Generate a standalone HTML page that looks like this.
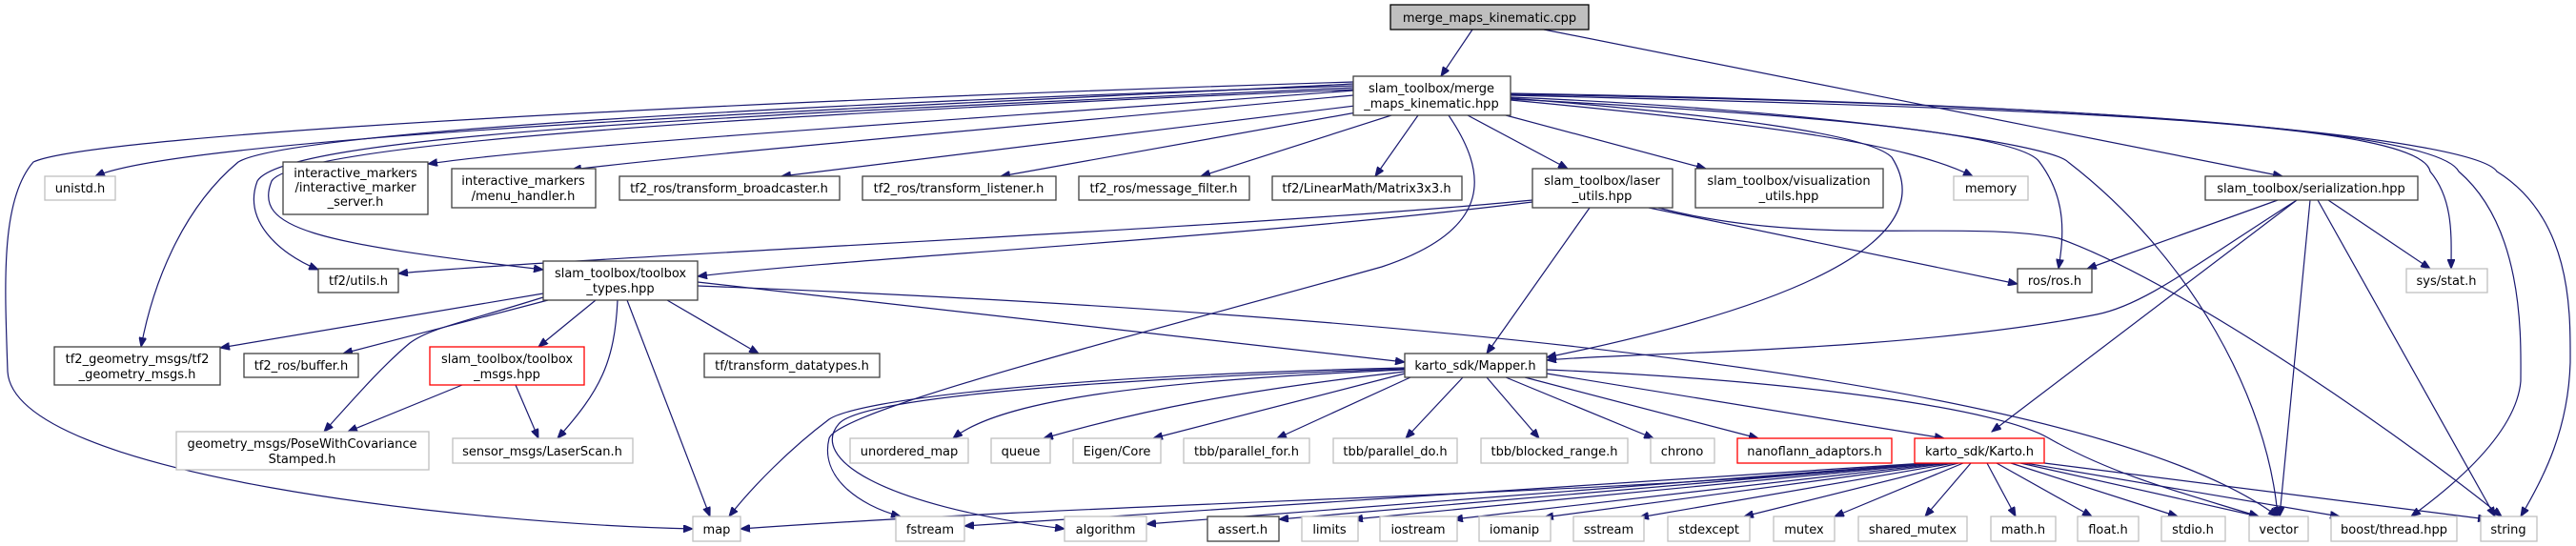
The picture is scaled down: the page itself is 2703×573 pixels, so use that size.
<!DOCTYPE html>
<html><head><meta charset="utf-8"><style>
html,body{margin:0;padding:0;background:#fff;}
svg{display:block;}
text{font-family:"DejaVu Sans","Liberation Sans",sans-serif;font-size:13px;fill:#000;text-anchor:middle;}
.e{fill:none;stroke:#191970;stroke-width:1.2;marker-end:url(#a);}
.n{fill:#fff;stroke:#404040;stroke-width:1.3;}
.g{fill:#fff;stroke:#bfbfbf;stroke-width:1.3;}
.r{fill:#fff;stroke:#ff0000;stroke-width:1.3;}
</style></head><body>
<svg width="2703" height="573" viewBox="0 0 2703 573" xmlns="http://www.w3.org/2000/svg">
<defs><marker id="a" markerWidth="11" markerHeight="8" refX="10" refY="4" orient="auto" markerUnits="userSpaceOnUse"><path d="M0,0 L10,4 L0,8 z" fill="#191970" stroke="#191970"/></marker></defs>
<g>
<path class="e" d="M1545,31 L1512,80"/>
<path class="e" d="M1620,31 L2395,185"/>
<path class="e" d="M1420,88 C1000,110 200,140 100,185"/>
<path class="e" d="M1420,95 C1100,120 600,150 449,172"/>
<path class="e" d="M1420,100 C1100,130 750,160 600,178"/>
<path class="e" d="M1430,110 L820,185"/>
<path class="e" d="M1440,115 L1050,185"/>
<path class="e" d="M1460,121 L1260,185"/>
<path class="e" d="M1488,121 L1443,185"/>
<path class="e" d="M1540,121 L1645,177"/>
<path class="e" d="M1580,121 L1790,177"/>
<path class="e" d="M1585,105 C1850,130 2000,150 2070,185"/>
<path class="e" d="M1420,92 C800,120 300,140 270,190 C255,230 290,265 334,283"/>
<path class="e" d="M1420,94 C800,120 310,150 285,190 C265,240 330,255 570,283"/>
<path class="e" d="M1420,90 C800,110 300,140 250,170 C190,220 160,300 148,364"/>
<path class="e" d="M1420,86 C800,105 100,140 35,170 C0,210 5,300 8,390 C15,500 500,550 727,555"/>
<path class="e" d="M1520,121 C1560,180 1570,240 1450,280 C1200,350 880,430 870,460 C860,500 900,530 945,542"/>
<path class="e" d="M1585,103 C1800,120 1960,140 1985,165 C2020,220 1990,300 1623,375"/>
<path class="e" d="M1585,104 C1900,120 2120,140 2140,170 C2170,210 2165,250 2160,282"/>
<path class="e" d="M1585,102 C1900,115 2150,150 2170,170 C2300,270 2380,420 2390,542"/>
<path class="e" d="M1585,100 C2200,115 2540,130 2550,180 C2575,210 2572,250 2572,282"/>
<path class="e" d="M1585,99 C2250,110 2560,140 2580,180 C2650,240 2645,360 2645,400 C2640,460 2560,520 2530,542"/>
<path class="e" d="M1585,98 C2300,110 2600,150 2620,180 C2700,230 2697,330 2697,380 C2695,450 2670,500 2645,542"/>
<path class="e" d="M1608,210 C1300,240 600,270 418,287"/>
<path class="e" d="M1608,212 C1300,250 900,270 732,290"/>
<path class="e" d="M1668,218 L1560,371"/>
<path class="e" d="M1730,218 L2117,298"/>
<path class="e" d="M1740,218 C1900,260 2060,230 2160,250 C2300,300 2550,480 2625,542"/>
<path class="e" d="M2390,210 L2190,282"/>
<path class="e" d="M2410,210 C2300,280 2250,320 2200,330 C2000,370 1700,370 1623,378"/>
<path class="e" d="M2410,210 L2090,453"/>
<path class="e" d="M2424,210 L2392,542"/>
<path class="e" d="M2432,210 L2618,542"/>
<path class="e" d="M2443,210 L2550,282"/>
<path class="e" d="M570,308 L231,365"/>
<path class="e" d="M575,315 L360,371"/>
<path class="e" d="M625,315 L565,364"/>
<path class="e" d="M570,312 C480,340 450,345 430,360 C400,385 370,420 340,453"/>
<path class="e" d="M648,315 C645,380 630,410 585,460"/>
<path class="e" d="M658,315 L745,542"/>
<path class="e" d="M700,315 L796,371"/>
<path class="e" d="M732,296 L1474,380"/>
<path class="e" d="M732,300 C1500,330 2200,400 2390,542"/>
<path class="e" d="M485,404 L365,453"/>
<path class="e" d="M541,404 L565,460"/>
<path class="e" d="M1474,388 C1200,400 1050,420 1000,460"/>
<path class="e" d="M1474,390 C1300,410 1200,430 1095,460"/>
<path class="e" d="M1474,392 L1210,460"/>
<path class="e" d="M1480,396 L1340,460"/>
<path class="e" d="M1535,396 L1475,460"/>
<path class="e" d="M1560,396 L1615,460"/>
<path class="e" d="M1580,396 L1735,460"/>
<path class="e" d="M1600,396 L1845,460"/>
<path class="e" d="M1623,392 L2040,460"/>
<path class="e" d="M1474,386 C1100,395 900,420 870,440 C830,470 790,510 765,542"/>
<path class="e" d="M1474,387 C1100,400 900,420 880,445 C850,480 920,530 1117,555"/>
<path class="e" d="M1623,388 C1900,400 2100,430 2150,460 C2220,500 2300,520 2370,542"/>
<path class="e" d="M2020,486 C1700,520 1200,525 777,555"/>
<path class="e" d="M2020,486 L1012,552"/>
<path class="e" d="M2025,486 L1203,550"/>
<path class="e" d="M2030,486 L1342,545"/>
<path class="e" d="M2035,486 L1420,545"/>
<path class="e" d="M2040,486 L1525,545"/>
<path class="e" d="M2045,486 L1620,543"/>
<path class="e" d="M2050,486 L1720,543"/>
<path class="e" d="M2055,486 L1830,542"/>
<path class="e" d="M2060,486 L1925,542"/>
<path class="e" d="M2068,486 L2020,542"/>
<path class="e" d="M2085,486 L2115,542"/>
<path class="e" d="M2095,486 L2195,542"/>
<path class="e" d="M2110,486 L2285,542"/>
<path class="e" d="M2120,486 L2370,542"/>
<path class="e" d="M2125,486 L2455,542"/>
<path class="e" d="M2145,486 L2610,545"/>
</g>
<g>
<rect x="1459" y="5" width="208" height="26" fill="#bfbfbf" stroke="#000" stroke-width="1.3"/><text x="1563" y="23">merge_maps_kinematic.cpp</text>
<rect class="n" x="1420" y="80" width="165" height="41"/><text x="1502" y="97">slam_toolbox/merge</text><text x="1502" y="113">_maps_kinematic.hpp</text>
<rect class="g" x="47" y="185" width="74" height="25"/><text x="84" y="202">unistd.h</text>
<rect class="n" x="297" y="170" width="152" height="55"/><text x="373" y="186">interactive_markers</text><text x="373" y="201">/interactive_marker</text><text x="373" y="216">_server.h</text>
<rect class="n" x="474" y="177" width="151" height="41"/><text x="549" y="194">interactive_markers</text><text x="549" y="210">/menu_handler.h</text>
<rect class="n" x="650" y="185" width="231" height="25"/><text x="765" y="202">tf2_ros/transform_broadcaster.h</text>
<rect class="n" x="905" y="185" width="203" height="25"/><text x="1006" y="202">tf2_ros/transform_listener.h</text>
<rect class="n" x="1132" y="185" width="179" height="25"/><text x="1221" y="202">tf2_ros/message_filter.h</text>
<rect class="n" x="1335" y="185" width="199" height="25"/><text x="1434" y="202">tf2/LinearMath/Matrix3x3.h</text>
<rect class="n" x="1608" y="177" width="147" height="41"/><text x="1681" y="194">slam_toolbox/laser</text><text x="1681" y="210">_utils.hpp</text>
<rect class="n" x="1779" y="177" width="197" height="41"/><text x="1877" y="194">slam_toolbox/visualization</text><text x="1877" y="210">_utils.hpp</text>
<rect class="g" x="2050" y="185" width="78" height="25"/><text x="2089" y="202">memory</text>
<rect class="n" x="2314" y="185" width="223" height="25"/><text x="2425" y="202">slam_toolbox/serialization.hpp</text>
<rect class="n" x="334" y="282" width="84" height="25"/><text x="376" y="299">tf2/utils.h</text>
<rect class="n" x="570" y="274" width="162" height="41"/><text x="651" y="291">slam_toolbox/toolbox</text><text x="651" y="307">_types.hpp</text>
<rect class="n" x="2117" y="282" width="78" height="25"/><text x="2156" y="299">ros/ros.h</text>
<rect class="g" x="2525" y="282" width="85" height="25"/><text x="2567" y="299">sys/stat.h</text>
<rect class="n" x="57" y="364" width="174" height="40"/><text x="144" y="381">tf2_geometry_msgs/tf2</text><text x="144" y="397">_geometry_msgs.h</text>
<rect class="n" x="256" y="371" width="120" height="25"/><text x="316" y="388">tf2_ros/buffer.h</text>
<rect class="r" x="451" y="364" width="162" height="40"/><text x="532" y="381">slam_toolbox/toolbox</text><text x="532" y="397">_msgs.hpp</text>
<rect class="n" x="739" y="371" width="184" height="25"/><text x="831" y="388">tf/transform_datatypes.h</text>
<rect class="n" x="1474" y="371" width="149" height="25"/><text x="1548" y="388">karto_sdk/Mapper.h</text>
<rect class="g" x="185" y="453" width="265" height="40"/><text x="317" y="470">geometry_msgs/PoseWithCovariance</text><text x="317" y="486">Stamped.h</text>
<rect class="g" x="475" y="460" width="189" height="26"/><text x="569" y="478">sensor_msgs/LaserScan.h</text>
<rect class="g" x="892" y="460" width="124" height="26"/><text x="954" y="478">unordered_map</text>
<rect class="g" x="1040" y="460" width="62" height="26"/><text x="1071" y="478">queue</text>
<rect class="g" x="1126" y="460" width="92" height="26"/><text x="1172" y="478">Eigen/Core</text>
<rect class="g" x="1242" y="460" width="132" height="26"/><text x="1308" y="478">tbb/parallel_for.h</text>
<rect class="g" x="1399" y="460" width="130" height="26"/><text x="1464" y="478">tbb/parallel_do.h</text>
<rect class="g" x="1554" y="460" width="154" height="26"/><text x="1631" y="478">tbb/blocked_range.h</text>
<rect class="g" x="1732" y="460" width="67" height="26"/><text x="1765" y="478">chrono</text>
<rect class="r" x="1823" y="460" width="162" height="26"/><text x="1904" y="478">nanoflann_adaptors.h</text>
<rect class="r" x="2009" y="460" width="136" height="26"/><text x="2077" y="478">karto_sdk/Karto.h</text>
<rect class="g" x="727" y="542" width="50" height="26"/><text x="752" y="560">map</text>
<rect class="g" x="940" y="542" width="72" height="26"/><text x="976" y="560">fstream</text>
<rect class="g" x="1117" y="542" width="86" height="26"/><text x="1160" y="560">algorithm</text>
<rect class="n" x="1267" y="542" width="75" height="26"/><text x="1304" y="560">assert.h</text>
<rect class="g" x="1366" y="542" width="59" height="26"/><text x="1395" y="560">limits</text>
<rect class="g" x="1448" y="542" width="81" height="26"/><text x="1488" y="560">iostream</text>
<rect class="g" x="1552" y="542" width="75" height="26"/><text x="1589" y="560">iomanip</text>
<rect class="g" x="1651" y="542" width="74" height="26"/><text x="1688" y="560">sstream</text>
<rect class="g" x="1750" y="542" width="86" height="26"/><text x="1793" y="560">stdexcept</text>
<rect class="g" x="1861" y="542" width="64" height="26"/><text x="1893" y="560">mutex</text>
<rect class="g" x="1950" y="542" width="114" height="26"/><text x="2007" y="560">shared_mutex</text>
<rect class="g" x="2089" y="542" width="68" height="26"/><text x="2123" y="560">math.h</text>
<rect class="g" x="2180" y="542" width="64" height="26"/><text x="2212" y="560">float.h</text>
<rect class="g" x="2268" y="542" width="67" height="26"/><text x="2301" y="560">stdio.h</text>
<rect class="g" x="2360" y="542" width="62" height="26"/><text x="2391" y="560">vector</text>
<rect class="g" x="2446" y="542" width="132" height="26"/><text x="2512" y="560">boost/thread.hpp</text>
<rect class="g" x="2603" y="542" width="59" height="26"/><text x="2632" y="560">string</text>
</g>
</svg>
</body></html>
